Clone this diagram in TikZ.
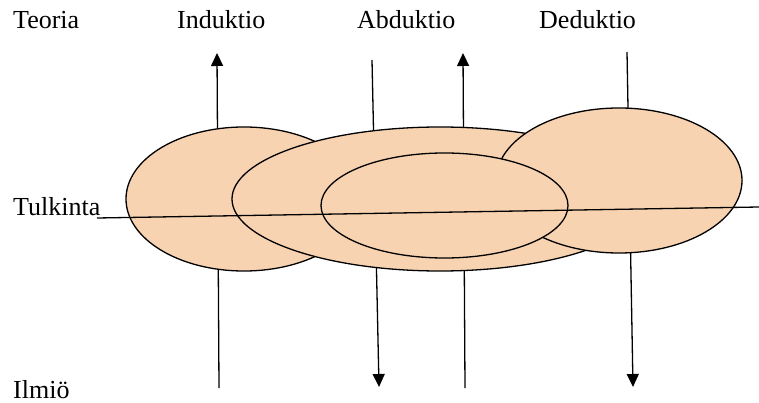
\documentclass[tikz,border=0pt]{standalone}
\usepackage{fontspec}
\setmainfont{Liberation Serif}
\usetikzlibrary{arrows.meta}
\definecolor{peach}{RGB}{248,211,178}
\begin{document}
\begin{tikzpicture}[x=1pt,y=-1pt,
  blob/.style={draw=black, line width=1.3pt, fill=peach},
  flow/.style={line width=1.3pt, -{Triangle[width=12pt,length=13pt]}},
  plain/.style={line width=1.3pt},
  lbl/.style={font=\fontsize{26}{30}\selectfont, anchor=base west, inner sep=0pt}]
\useasboundingbox (0,0) rectangle (759,403);

% end points of the vertical reasoning lines
\coordinate (indLo) at (219,388);
\coordinate (indHi) at (217,53);
\coordinate (abdDnHi) at (372,60);
\coordinate (abdDnLo) at (379,387);
\coordinate (abdUpLo) at (465,388);
\coordinate (abdUpHi) at (463,53);
\coordinate (dedHi) at (627,52);
\coordinate (dedLo) at (633,387);
\coordinate (tulL) at (97,218);
\coordinate (tulR) at (759,207);

% reasoning directions (behind the interpretation areas)
\draw[flow] (indLo) -- (indHi);
\draw[flow] (abdDnHi) -- (abdDnLo);
\draw[flow] (abdUpLo) -- (abdUpHi);
\draw[flow] (dedHi) -- (dedLo);

% interpretation areas
\draw[blob] (244,199) ellipse [x radius=118pt, y radius=72pt];
\draw[blob] (440,199) ellipse [x radius=208pt, y radius=72pt];
\draw[blob] (619,180.5) ellipse [x radius=123pt, y radius=72.5pt];
\draw[blob] (444.5,205.5) ellipse [x radius=123.5pt, y radius=52.5pt];

% interpretation level
\draw[plain] (tulL) -- (tulR);

% labels
\node[lbl] (teoria) at (13,29) {Teoria};
\node[lbl] (induktio) at (177,29) {Induktio};
\node[lbl] (abduktio) at (357,29) {Abduktio};
\node[lbl] (deduktio) at (539,29) {Deduktio};
\node[lbl] (tulkinta) at (13,215) {Tulkinta};
\node[lbl] (ilmio) at (13,398) {Ilmiö};
\end{tikzpicture}
\end{document}
